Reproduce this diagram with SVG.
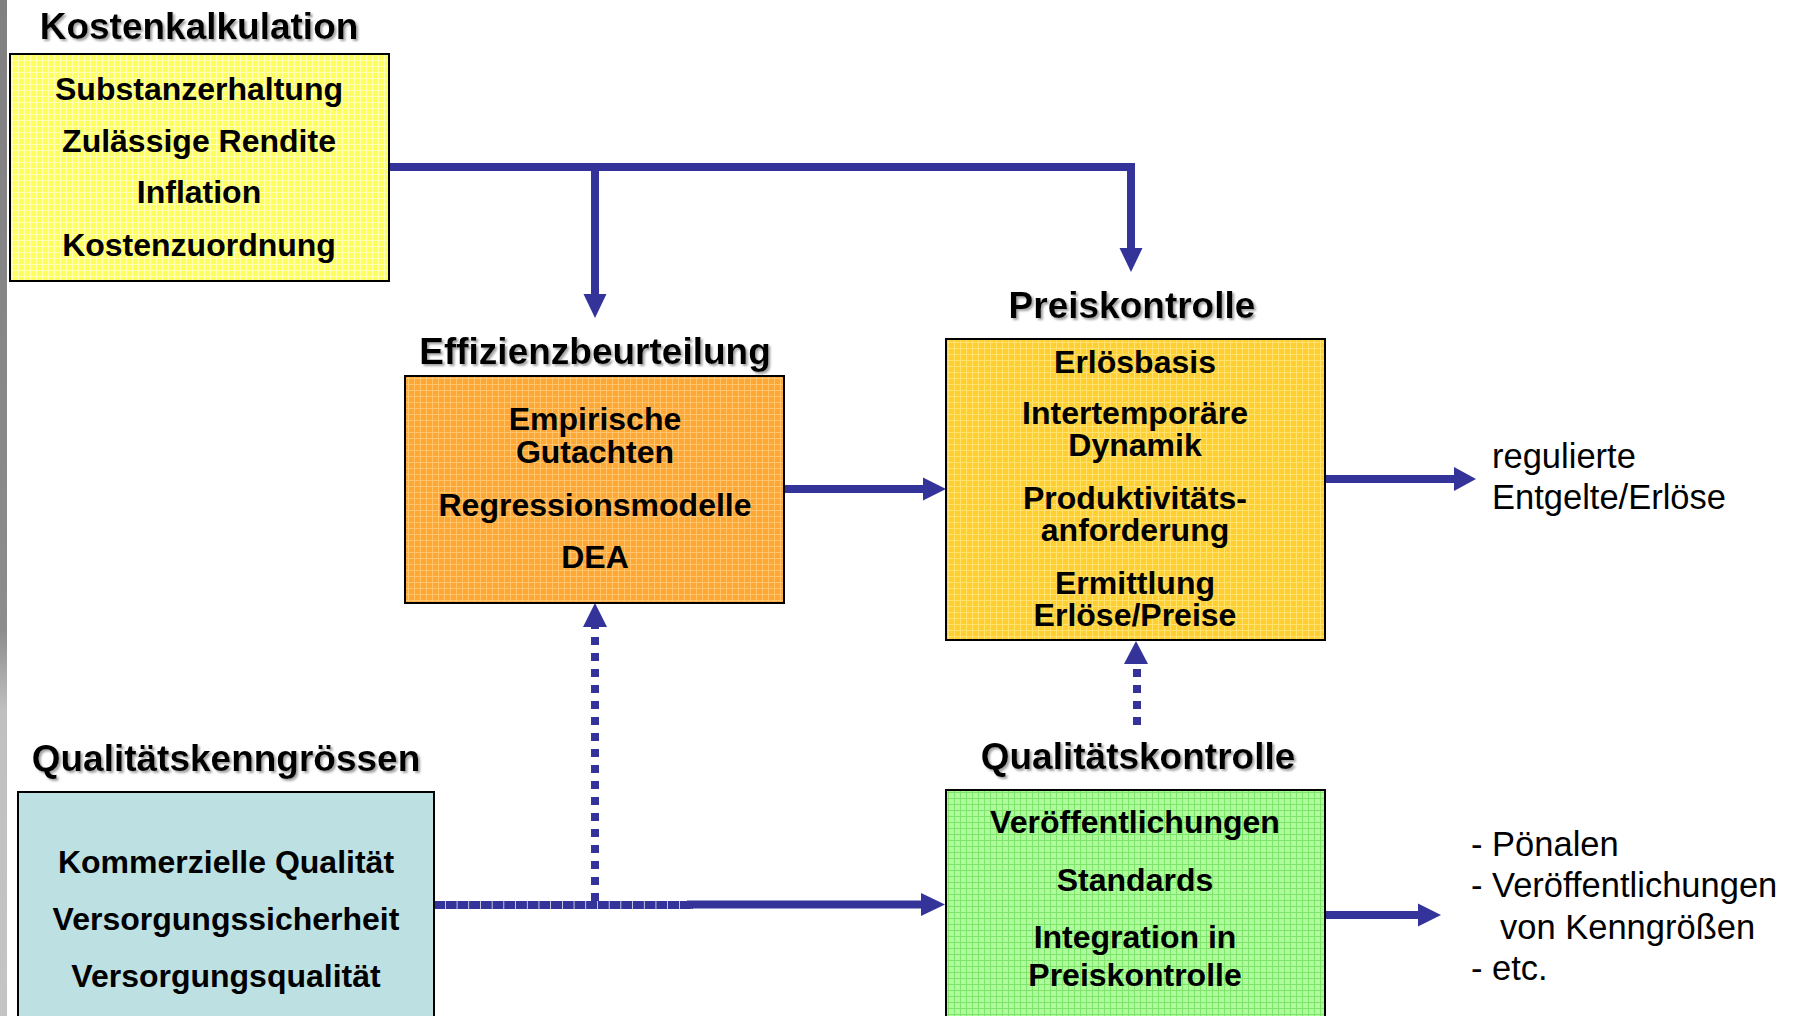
<svg xmlns="http://www.w3.org/2000/svg" width="1802" height="1016" viewBox="0 0 1802 1016">
<defs>
<style>
.h{font-family:"Liberation Sans",Arial,sans-serif;font-weight:bold;font-size:37px;text-anchor:middle;fill:#000;filter:url(#sh)}
.b{font-family:"Liberation Sans",Arial,sans-serif;font-weight:bold;font-size:32px;text-anchor:middle;fill:#000}
.r{font-family:"Liberation Sans",Arial,sans-serif;font-size:34.5px;fill:#000}
.box{stroke:#000;stroke-width:2}
.ln{stroke:#333399;stroke-width:8;fill:none}
.dot{stroke:#333399;stroke-width:8;fill:none;stroke-dasharray:8 8}
.ah{fill:#333399}
</style>
<filter id="sh" x="-5%" y="-20%" width="110%" height="150%">
<feDropShadow dx="2" dy="2" stdDeviation="0.8" flood-color="#8a8a8a" flood-opacity="0.8"/>
</filter>
<linearGradient id="bar" x1="0" y1="0" x2="0" y2="1">
<stop offset="0" stop-color="#808080"/>
<stop offset="0.62" stop-color="#8c8c8c"/>
<stop offset="0.7" stop-color="#c0c0c0"/>
<stop offset="1" stop-color="#c4c4c4"/>
</linearGradient>
<pattern id="pY" width="6" height="6" patternUnits="userSpaceOnUse">
<rect width="6" height="6" fill="#FFFF5C"/><path d="M0 0.5H6M0.5 0V6" stroke="#FFFFB5" stroke-width="1"/>
</pattern>
<pattern id="pO" width="6" height="6" patternUnits="userSpaceOnUse">
<rect width="6" height="6" fill="#FFA733"/><path d="M0 0.5H6M0.5 0V6" stroke="#FFC46E" stroke-width="1"/>
</pattern>
<pattern id="pG" width="6" height="6" patternUnits="userSpaceOnUse">
<rect width="6" height="6" fill="#FFCF30"/><path d="M0 0.5H6M0.5 0V6" stroke="#FFE270" stroke-width="1"/>
</pattern>
<pattern id="pL" width="6" height="6" patternUnits="userSpaceOnUse">
<rect width="6" height="6" fill="#ADFB9A"/><path d="M0 0.5H6M0.5 0V6" stroke="#7EE46C" stroke-width="1"/>
</pattern>
</defs>
<rect width="1802" height="1016" fill="#fff"/>
<rect x="0" y="0" width="7" height="1016" fill="url(#bar)"/>

<g id="connectors">
<path class="ln" d="M389 167H1131V249"/>
<path class="ln" d="M595 167V295"/>
<polygon class="ah" points="1119.5,248 1142.5,248 1131,272"/>
<polygon class="ah" points="583.5,294 606.5,294 595,318"/>
<path class="ln" d="M784 489H924"/>
<polygon class="ah" points="923,477.5 923,500.5 946,489"/>
<path class="ln" d="M1325 479H1455"/>
<polygon class="ah" points="1454,467 1454,491 1476,479"/>
<path class="dot" d="M595 901V626"/>
<polygon class="ah" points="583,627 607,627 595,603"/>
<path class="dot" d="M1137 725V669"/>
<polygon class="ah" points="1124,664 1148,664 1136,641"/>
<path class="ln" d="M434 905H693" stroke-dasharray="11 0.7"/>
<path class="ln" d="M687 904.5H922"/>
<polygon class="ah" points="921,893 921,916 945,904.5"/>
<path class="ln" d="M1325 915H1419"/>
<polygon class="ah" points="1418,903.5 1418,926.5 1441,915"/>
</g>

<g id="kostenkalkulation">
<text class="h" x="199" y="39">Kostenkalkulation</text>
<rect class="box" x="10" y="54" width="379" height="227" fill="url(#pY)"/>
<text class="b" x="199" y="100">Substanzerhaltung</text>
<text class="b" x="199" y="152">Zulässige Rendite</text>
<text class="b" x="199" y="203">Inflation</text>
<text class="b" x="199" y="256">Kostenzuordnung</text>
</g>

<g id="effizienzbeurteilung">
<text class="h" x="595" y="364">Effizienzbeurteilung</text>
<rect class="box" x="405" y="376" width="379" height="227" fill="url(#pO)"/>
<text class="b" x="595" y="430">Empirische<tspan x="595" y="463">Gutachten</tspan></text>
<text class="b" x="595" y="516">Regressionsmodelle</text>
<text class="b" x="595" y="568">DEA</text>
</g>

<g id="preiskontrolle">
<text class="h" x="1132" y="318">Preiskontrolle</text>
<rect class="box" x="946" y="339" width="379" height="301" fill="url(#pG)"/>
<text class="b" x="1135" y="373">Erlösbasis</text>
<text class="b" x="1135" y="424">Intertemporäre<tspan x="1135" y="456">Dynamik</tspan></text>
<text class="b" x="1135" y="509">Produktivitäts-<tspan x="1135" y="541">anforderung</tspan></text>
<text class="b" x="1135" y="594">Ermittlung<tspan x="1135" y="626">Erlöse/Preise</tspan></text>
</g>

<g id="ergebnis-preis">
<text class="r" x="1492" y="468">regulierte<tspan x="1492" y="509">Entgelte/Erlöse</tspan></text>
</g>

<g id="qualitaetskenngroessen">
<text class="h" x="226" y="771">Qualitätskenngrössen</text>
<rect class="box" x="18" y="792" width="416" height="240" fill="#BDE1E3"/>
<text class="b" x="226" y="873">Kommerzielle Qualität</text>
<text class="b" x="226" y="930">Versorgungssicherheit</text>
<text class="b" x="226" y="987">Versorgungsqualität</text>
</g>

<g id="qualitaetskontrolle">
<text class="h" x="1138" y="769">Qualitätskontrolle</text>
<rect class="box" x="946" y="790" width="379" height="240" fill="url(#pL)"/>
<text class="b" x="1135" y="833">Veröffentlichungen</text>
<text class="b" x="1135" y="891">Standards</text>
<text class="b" x="1135" y="948">Integration in<tspan x="1135" y="986">Preiskontrolle</tspan></text>
</g>

<g id="ergebnis-qualitaet">
<text class="r" x="1471" y="856">- Pönalen</text>
<text class="r" x="1471" y="897">- Veröffentlichungen<tspan x="1500" y="939">von Kenngrößen</tspan></text>
<text class="r" x="1471" y="980">- etc.</text>
</g>
</svg>
